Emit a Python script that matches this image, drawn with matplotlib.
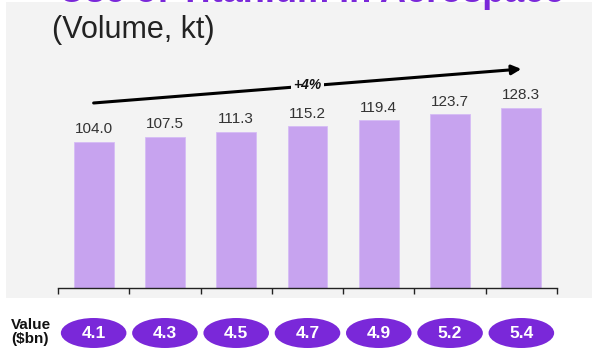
import matplotlib.pyplot as plt
from matplotlib.patches import Ellipse, Rectangle

# data
years = list(range(7))
volume = [104.0, 107.5, 111.3, 115.2, 119.4, 123.7, 128.3]
value_bn = [4.1, 4.3, 4.5, 4.7, 4.9, 5.2, 5.4]
cagr_label = "+4%"

W, H = 592, 351
purple = '#7a28d9'
bar_col = '#c7a3ef'
panel = '#f3f3f3'

plt.rcParams['font.family'] = ['Liberation Sans', 'DejaVu Sans']

fig = plt.figure(figsize=(W / 100, H / 100), dpi=100)
fig.patch.set_facecolor('white')

# light grey panel behind the chart
fig.patches.append(Rectangle((6 / W, 1 - 298 / H), 1 - 6 / W, (298 - 2) / H,
                             transform=fig.transFigure, facecolor=panel,
                             edgecolor='none', zorder=-10))

# title (cut off at the top in the reference) and subtitle
fig.text(59 / W, 1 - 2 / H, "Use of Titanium in Aerospace", color=purple,
         fontsize=26, fontweight='bold', ha='left', va='baseline')
fig.text(52 / W, 1 - 30 / H, "(Volume, kt)", color='#222222',
         fontsize=22, ha='left', va='center')

# main bar chart
left, right = 58 / W, 557 / W
ax = fig.add_axes([left, 63 / H, right - left, 224.6 / H])
ax.set_facecolor('none')
ax.bar(years, volume, width=0.56, color=bar_col, edgecolor='#d6bcf5',
       linewidth=0.6, zorder=2)
for x, v in zip(years, volume):
    ax.text(x, v + 4.0, f"{v:.1f}", ha='center', va='bottom',
            fontsize=11, color='#333333')

ax.set_xlim(-0.5, 6.5)
ax.set_ylim(0, 160)
for s in ['top', 'right', 'left']:
    ax.spines[s].set_visible(False)
ax.spines['bottom'].set_color('#222222')
ax.spines['bottom'].set_linewidth(1.0)
ax.set_yticks([])
ax.set_xticks([i - 0.5 for i in range(8)])
ax.set_xticklabels([])
ax.tick_params(axis='x', direction='out', length=4, width=1, color='#222222')

# growth arrow
ax.annotate('', xy=(6.0, 156), xytext=(0.0, 131.8),
            arrowprops=dict(arrowstyle='-|>', color='black', lw=2.2,
                            mutation_scale=14, shrinkA=0, shrinkB=0),
            annotation_clip=False)
ax.text(3.0, 144.4, cagr_label, ha='center', va='center', fontsize=10,
        fontweight='bold', fontstyle='italic', color='#111111',
        bbox=dict(facecolor=panel, edgecolor='none', pad=1.5), zorder=5)

# value row with ellipses
ax2 = fig.add_axes([left, 1 / H, right - left, 34 / H])
ax2.set_xlim(-0.5, 6.5)
ax2.set_ylim(0, 1)
ax2.axis('off')
for x, v in zip(years, value_bn):
    ax2.add_patch(Ellipse((x, 0.5), 0.92, 30 / 34, facecolor=purple,
                          edgecolor='none'))
    ax2.text(x, 0.5, f"{v:.1f}", ha='center', va='center', color='white',
             fontsize=12.5, fontweight='bold')

fig.text(11 / W, 1 - 332 / H, "Value\n($bn)", ha='left', va='center',
         fontsize=11, fontweight='bold', color='#111111', linespacing=1.0)

fig.savefig('out.png', dpi=100)
